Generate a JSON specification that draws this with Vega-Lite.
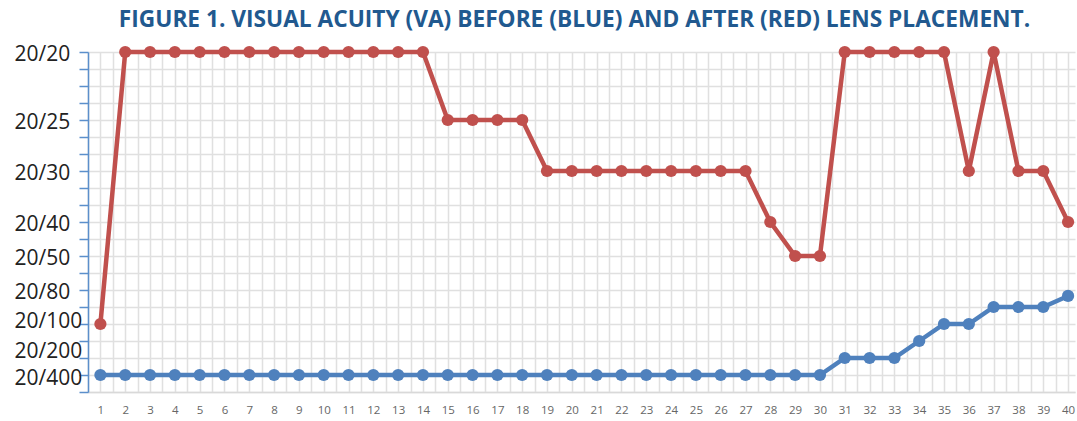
{
  "$schema": "https://vega.github.io/schema/vega-lite/v6.json",
  "width": 987,
  "height": 340,
  "autosize": {"type": "none"},
  "padding": {"left": 88, "top": 52, "right": 2, "bottom": 29},
  "background": "white",
  "title": {
    "text": "FIGURE 1. VISUAL ACUITY (VA) BEFORE (BLUE) AND AFTER (RED) LENS PLACEMENT.",
    "font": "Open Sans",
    "fontSize": 22.7,
    "fontWeight": "bold",
    "color": "#21598F",
    "anchor": "middle",
    "dx": -7,
    "offset": 11
  },
  "data": {
    "values": [
      {"eye": 1, "timing": "Before", "va_step": 19}, {"eye": 2, "timing": "Before", "va_step": 19}, {"eye": 3, "timing": "Before", "va_step": 19}, {"eye": 4, "timing": "Before", "va_step": 19}, {"eye": 5, "timing": "Before", "va_step": 19},
      {"eye": 6, "timing": "Before", "va_step": 19}, {"eye": 7, "timing": "Before", "va_step": 19}, {"eye": 8, "timing": "Before", "va_step": 19}, {"eye": 9, "timing": "Before", "va_step": 19}, {"eye": 10, "timing": "Before", "va_step": 19},
      {"eye": 11, "timing": "Before", "va_step": 19}, {"eye": 12, "timing": "Before", "va_step": 19}, {"eye": 13, "timing": "Before", "va_step": 19}, {"eye": 14, "timing": "Before", "va_step": 19}, {"eye": 15, "timing": "Before", "va_step": 19},
      {"eye": 16, "timing": "Before", "va_step": 19}, {"eye": 17, "timing": "Before", "va_step": 19}, {"eye": 18, "timing": "Before", "va_step": 19}, {"eye": 19, "timing": "Before", "va_step": 19}, {"eye": 20, "timing": "Before", "va_step": 19},
      {"eye": 21, "timing": "Before", "va_step": 19}, {"eye": 22, "timing": "Before", "va_step": 19}, {"eye": 23, "timing": "Before", "va_step": 19}, {"eye": 24, "timing": "Before", "va_step": 19}, {"eye": 25, "timing": "Before", "va_step": 19},
      {"eye": 26, "timing": "Before", "va_step": 19}, {"eye": 27, "timing": "Before", "va_step": 19}, {"eye": 28, "timing": "Before", "va_step": 19}, {"eye": 29, "timing": "Before", "va_step": 19}, {"eye": 30, "timing": "Before", "va_step": 19},
      {"eye": 31, "timing": "Before", "va_step": 18}, {"eye": 32, "timing": "Before", "va_step": 18}, {"eye": 33, "timing": "Before", "va_step": 18}, {"eye": 34, "timing": "Before", "va_step": 17}, {"eye": 35, "timing": "Before", "va_step": 16},
      {"eye": 36, "timing": "Before", "va_step": 16}, {"eye": 37, "timing": "Before", "va_step": 15}, {"eye": 38, "timing": "Before", "va_step": 15}, {"eye": 39, "timing": "Before", "va_step": 15}, {"eye": 40, "timing": "Before", "va_step": 14.35},
      {"eye": 1, "timing": "After", "va_step": 16}, {"eye": 2, "timing": "After", "va_step": 0}, {"eye": 3, "timing": "After", "va_step": 0}, {"eye": 4, "timing": "After", "va_step": 0}, {"eye": 5, "timing": "After", "va_step": 0},
      {"eye": 6, "timing": "After", "va_step": 0}, {"eye": 7, "timing": "After", "va_step": 0}, {"eye": 8, "timing": "After", "va_step": 0}, {"eye": 9, "timing": "After", "va_step": 0}, {"eye": 10, "timing": "After", "va_step": 0},
      {"eye": 11, "timing": "After", "va_step": 0}, {"eye": 12, "timing": "After", "va_step": 0}, {"eye": 13, "timing": "After", "va_step": 0}, {"eye": 14, "timing": "After", "va_step": 0}, {"eye": 15, "timing": "After", "va_step": 4},
      {"eye": 16, "timing": "After", "va_step": 4}, {"eye": 17, "timing": "After", "va_step": 4}, {"eye": 18, "timing": "After", "va_step": 4}, {"eye": 19, "timing": "After", "va_step": 7}, {"eye": 20, "timing": "After", "va_step": 7},
      {"eye": 21, "timing": "After", "va_step": 7}, {"eye": 22, "timing": "After", "va_step": 7}, {"eye": 23, "timing": "After", "va_step": 7}, {"eye": 24, "timing": "After", "va_step": 7}, {"eye": 25, "timing": "After", "va_step": 7},
      {"eye": 26, "timing": "After", "va_step": 7}, {"eye": 27, "timing": "After", "va_step": 7}, {"eye": 28, "timing": "After", "va_step": 10}, {"eye": 29, "timing": "After", "va_step": 12}, {"eye": 30, "timing": "After", "va_step": 12},
      {"eye": 31, "timing": "After", "va_step": 0}, {"eye": 32, "timing": "After", "va_step": 0}, {"eye": 33, "timing": "After", "va_step": 0}, {"eye": 34, "timing": "After", "va_step": 0}, {"eye": 35, "timing": "After", "va_step": 0},
      {"eye": 36, "timing": "After", "va_step": 7}, {"eye": 37, "timing": "After", "va_step": 0}, {"eye": 38, "timing": "After", "va_step": 7}, {"eye": 39, "timing": "After", "va_step": 7}, {"eye": 40, "timing": "After", "va_step": 10}
    ]
  },
  "mark": {
    "type": "line",
    "strokeWidth": 4.5,
    "point": {"filled": true, "size": 150, "opacity": 1}
  },
  "encoding": {
    "x": {
      "field": "eye",
      "type": "quantitative",
      "scale": {"domain": [0.5, 40.28], "nice": false, "zero": false},
      "axis": {
        "title": null,
        "values": [0.5,1,1.5,2,2.5,3,3.5,4,4.5,5,5.5,6,6.5,7,7.5,8,8.5,9,9.5,10,10.5,11,11.5,12,12.5,13,13.5,14,14.5,15,15.5,16,16.5,17,17.5,18,18.5,19,19.5,20,20.5,21,21.5,22,22.5,23,23.5,24,24.5,25,25.5,26,26.5,27,27.5,28,28.5,29,29.5,30,30.5,31,31.5,32,32.5,33,33.5,34,34.5,35,35.5,36,36.5,37,37.5,38,38.5,39,39.5,40],
        "labelExpr": "datum.value % 1 === 0 ? format(datum.value, 'd') : ''",
        "labelOverlap": false,
        "labelFont": "Open Sans",
        "labelFontSize": 11.5,
        "labelColor": "#666666",
        "labelPadding": 12,
        "ticks": false,
        "domain": true,
        "domainColor": "#D9D9D9",
        "domainWidth": 1.5,
        "grid": true,
        "gridColor": "#E0E0E0",
        "gridWidth": 1.5
      }
    },
    "y": {
      "field": "va_step",
      "type": "quantitative",
      "scale": {"domain": [0, 20], "reverse": true, "nice": false, "zero": false},
      "axis": {
        "title": null,
        "values": [0,1,2,3,4,5,6,7,8,9,10,11,12,13,14,15,16,17,18,19,20],
        "labelExpr": "datum.value == 0 ? '20/20' : datum.value == 4 ? '20/25' : datum.value == 7 ? '20/30' : datum.value == 10 ? '20/40' : datum.value == 12 ? '20/50' : datum.value == 14 ? '20/80' : datum.value == 16 ? '20/100' : datum.value == 18 ? '20/200' : datum.value == 19 ? '20/400' : ''",
        "labelOffset": {"expr": "datum.value == 18 ? -7 : datum.value == 16 ? -3 : datum.value == 19 ? 3 : 2"},
        "labelOverlap": false,
        "labelFont": "Open Sans",
        "labelFontSize": 21,
        "labelColor": "#222222",
        "labelAlign": "left",
        "labelBaseline": "middle",
        "labelPadding": 65,
        "tickSize": 9,
        "tickColor": "#5B8FCB",
        "tickWidth": 1.5,
        "domainColor": "#5B8FCB",
        "domainWidth": 1.5,
        "grid": true,
        "gridColor": "#E0E0E0",
        "gridWidth": 1.5
      }
    },
    "color": {
      "field": "timing",
      "type": "nominal",
      "scale": {"domain": ["Before", "After"], "range": ["#4F81BD", "#C0504D"]},
      "legend": null
    },
    "order": {"field": "eye", "type": "quantitative"}
  },
  "config": {"view": {"stroke": null}}
}
